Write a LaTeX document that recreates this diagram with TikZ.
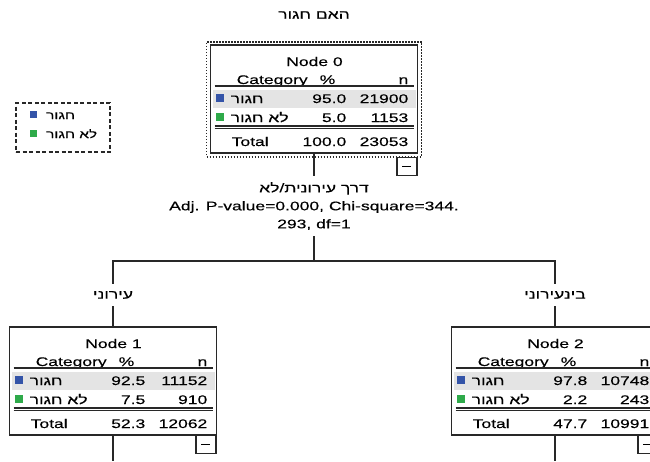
\documentclass[tikz,border=0pt]{standalone}
\usepackage{fontspec}
\setmainfont{Liberation Sans}[FakeStretch=1.4,FakeBold=0.3]
\newfontfamily\hebfont{Liberation Sans}[Script=Hebrew,FakeStretch=1.4,FakeBold=0.3]
\TeXXeTstate=1
\newcommand{\heb}[1]{{\hebfont\beginR #1\endR}}
\newcommand{\tablefont}{\fontsize{12.5}{18}\selectfont}
\usetikzlibrary{positioning}
\definecolor{catblue}{RGB}{52,84,168}
\definecolor{catgreen}{RGB}{46,170,74}
\definecolor{rowgray}{RGB}{228,228,228}
\definecolor{linegray}{RGB}{40,40,40}

% one tree node: index, position, pct/n of the two categories, total
\newcommand{\spssnode}[8]{%
  \node[treebox] (n#1) at (#2) {};
  \begin{scope}[shift={(n#1.north west)}]
    \fill[rowgray] (2,45) rectangle (205,63);
    \node[cell] at (104,21) {Node #1};
    \node[cell,anchor=base west] at (26,39) {Category};
    \node[cell] at (117,39) {\%};
    \node[cell,anchor=base east] at (198,39) {n};
    \draw[conn] (4,41) -- (203,41);
    \fill[catblue] (5,49) rectangle (13,57);
    \node[cell,anchor=base west] at (20,58) {\heb{חגור}};
    \node[cell,anchor=base east] at (136,58) {#3};
    \node[cell,anchor=base east] at (198,58) {#4};
    \fill[catgreen] (5,68) rectangle (13,76);
    \node[cell,anchor=base west] at (20,77) {\heb{לא חגור}};
    \node[cell,anchor=base east] at (136,77) {#5};
    \node[cell,anchor=base east] at (198,77) {#6};
    \draw[conn] (4,81) -- (203,81) (4,83.5) -- (203,83.5);
    \node[cell,anchor=base west] at (21,101) {Total};
    \node[cell,anchor=base east] at (136,101) {#7};
    \node[cell,anchor=base east] at (198,101) {#8};
  \end{scope}}

\begin{document}
\begin{tikzpicture}[x=1pt,y=-1pt,
  treebox/.style={draw=linegray,line width=1.2pt,fill=white,minimum width=207,
                  minimum height=108,inner sep=0,outer sep=0},
  selframe/.style={draw=linegray,line width=1.6pt,dash pattern=on 1.5pt off 1.5pt,
                   minimum width=215,minimum height=115,inner sep=0,outer sep=0},
  minusbox/.style={draw=linegray,line width=1.2pt,fill=white,minimum width=20,
                   minimum height=18,inner sep=0},
  legendbox/.style={draw=linegray,line width=1.2pt,dash pattern=on 4pt off 2.5pt,
                    minimum width=94,minimum height=49,inner sep=0},
  cell/.style={font=\tablefont,inner sep=0,anchor=base},
  lbl/.style={font=\tablefont,align=center,inner xsep=2,inner ysep=6},
  conn/.style={draw=linegray,line width=1.2pt}]
\useasboundingbox (0,0) rectangle (650,461);
\clip (0,0) rectangle (650,461);

\node[lbl] (title) at (314,15) {\heb{האם חגור}};

% legend
\node[legendbox] (legend) at (63,127.5) {};
\fill[catblue] (30,111) rectangle (37,118);
\node[cell,anchor=base west,font=\fontsize{11}{12}\selectfont] (leg1) at (46,119) {\heb{חגור}};
\fill[catgreen] (30,130) rectangle (37,137);
\node[cell,anchor=base west,font=\fontsize{11}{12}\selectfont] (leg2) at (46,138) {\heb{לא חגור}};

% root
\node[selframe] (sel0) at (314,99.3) {};
\spssnode{0}{314,99}{95.0}{21900}{5.0}{1153}{100.0}{23053}
\node[minusbox,anchor=north east] (min0) at (sel0.south -| n0.east) {\rule{9pt}{1.2pt}};

\node[lbl] (split) at (314,206) {\heb{דרך עירונית/לא}\\Adj. P-value=0.000, Chi-square=344.\\293, df=1};
\coordinate (fork) at (314,261);

% children
\node[lbl,inner ysep=7] (lab1) at (113,295) {\heb{עירוני}};
\node[lbl,inner ysep=7] (lab2) at (555,295) {\heb{בינעירוני}};
\spssnode{1}{113,381}{92.5}{11152}{7.5}{910}{52.3}{12062}
\spssnode{2}{555,381}{97.8}{10748}{2.2}{243}{47.7}{10991}
\node[minusbox,anchor=north east] (min1) at (n1.south east) {\rule{9pt}{1.2pt}};
\node[minusbox,anchor=north east] (min2) at (n2.south east) {\rule{9pt}{1.2pt}};
\coordinate (out1) at (113,461);
\coordinate (out2) at (555,461);

\draw[conn] (n0.south) -- (split.north);
\draw[conn] (split.south) -- (fork);
\draw[conn] (lab1.north) |- (fork) -| (lab2.north);
\draw[conn] (lab1.south) -- (n1.north);
\draw[conn] (lab2.south) -- (n2.north);
\draw[conn] (n1.south) -- (out1);
\draw[conn] (n2.south) -- (out2);
\end{tikzpicture}
\end{document}
